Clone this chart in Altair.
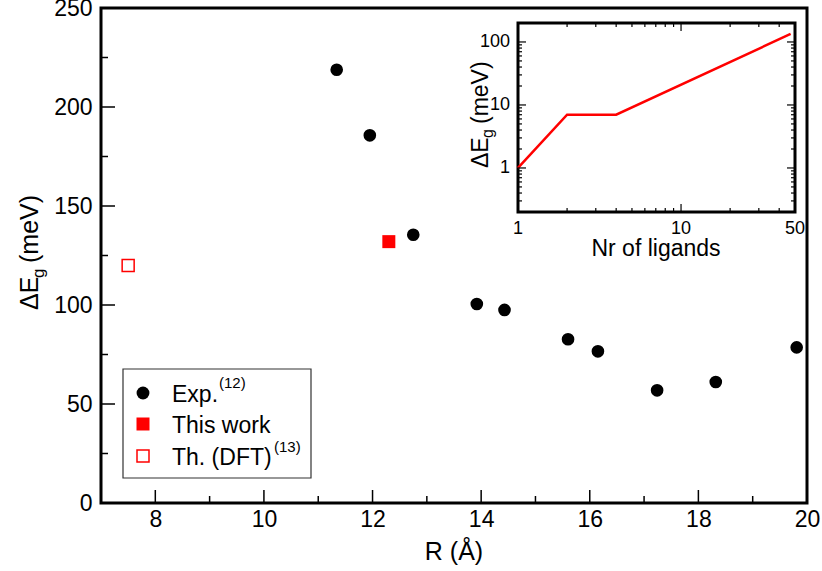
import altair as alt
import pandas as pd

FONT = "Liberation Sans"

# ---- main data ----
exp_R = [11.34, 11.95, 12.75, 13.92, 14.43, 15.60, 16.15, 17.24, 18.32, 19.81]
exp_dE = [218.8, 185.7, 135.5, 100.5, 97.5, 82.7, 76.6, 56.9, 61.1, 78.6]
this_R = [12.30]
this_dE = [132.0]
dft_R = [7.50]
dft_dE = [120.0]

# ---- inset data ----
inset_n = [1, 2, 4, 47]
inset_dE = [1.0, 7.0, 7.0, 134.0]

# ---- ticks / labels ----
x_major = [8, 10, 12, 14, 16, 18, 20]
x_minor = [9, 11, 13, 15, 17, 19]
y_major = [0, 50, 100, 150, 200, 250]
y_minor = [25, 75, 125, 175, 225]

inset_x_labels = [1, 10, 50]
inset_x_major = [1, 10, 50]
inset_x_minor = [2, 3, 4, 5, 6, 7, 8, 9, 20, 30, 40]
inset_y_labels = [1, 10, 100]
inset_y_major = [1, 10, 100]
inset_y_minor = [0.2, 0.3, 0.4, 0.5, 0.6, 0.7, 0.8, 0.9,
                 2, 3, 4, 5, 6, 7, 8, 9,
                 20, 30, 40, 50, 60, 70, 80, 90, 200]

legend_labels = ["Exp.", "This work", "Th. (DFT)"]
legend_refs = ["(12)", "(13)"]

W, H = 706, 495
one = pd.DataFrame({"a": [0]})

xs = alt.Scale(domain=[7, 20], nice=False, zero=False)
ys = alt.Scale(domain=[0, 250], nice=False, zero=False)
xaxis = alt.Axis(values=x_major, labelFontSize=23, labelFont=FONT, labelColor="black",
                 ticks=False, tickSize=0, domain=False, grid=False, title=None,
                 labelPadding=5, format="d", labelFlush=False, labelOverlap=False)
yaxis = alt.Axis(values=y_major, labelFontSize=23, labelFont=FONT, labelColor="black",
                 ticks=False, tickSize=0, domain=False, grid=False, title=None,
                 labelPadding=9, format="d", labelFlush=False, labelOverlap=False)
X = alt.X("x:Q", scale=xs, axis=xaxis)
Y = alt.Y("y:Q", scale=ys, axis=yaxis)

frame = alt.Chart(one).mark_rect(fillOpacity=0, stroke="black", strokeWidth=3).encode(
    x=alt.value(0), x2=alt.value(W), y=alt.value(0), y2=alt.value(H))

exp_pts = alt.Chart(pd.DataFrame({"x": exp_R, "y": exp_dE})).mark_point(
    shape="circle", filled=True, color="black", size=160, opacity=1).encode(x=X, y=Y)
this_pts = alt.Chart(pd.DataFrame({"x": this_R, "y": this_dE})).mark_point(
    shape="square", filled=True, color="#ff0000", size=169, opacity=1).encode(x=X, y=Y)
dft_pts = alt.Chart(pd.DataFrame({"x": dft_R, "y": dft_dE})).mark_point(
    shape="square", filled=False, color="#ff0000", size=144, strokeWidth=1.5, opacity=1).encode(x=X, y=Y)

xt_major = alt.Chart(pd.DataFrame({"x": x_major})).mark_rule(color="black", strokeWidth=1.5).encode(
    x=X, y=alt.value(H), y2=alt.value(H - 13))
xt_minor = alt.Chart(pd.DataFrame({"x": x_minor})).mark_rule(color="black", strokeWidth=1.5).encode(
    x=X, y=alt.value(H), y2=alt.value(H - 7))
yt_major = alt.Chart(pd.DataFrame({"y": y_major})).mark_rule(color="black", strokeWidth=1.5).encode(
    y=Y, x=alt.value(0), x2=alt.value(14))
yt_minor = alt.Chart(pd.DataFrame({"y": y_minor})).mark_rule(color="black", strokeWidth=1.5).encode(
    y=Y, x=alt.value(0), x2=alt.value(7))

# axis titles
xtitle = alt.Chart(one).mark_text(font=FONT, fontSize=25, align="center", baseline="alphabetic").encode(
    x=alt.value(353), y=alt.value(552), text=alt.value("R (Å)"))
yt1 = alt.Chart(one).mark_text(font=FONT, fontSize=25, align="left", baseline="alphabetic", angle=270).encode(
    x=alt.value(-63), y=alt.value(302), text=alt.value("ΔE"))
yt2 = alt.Chart(one).mark_text(font=FONT, fontSize=17, align="left", baseline="alphabetic", angle=270).encode(
    x=alt.value(-57), y=alt.value(270), text=alt.value("g"))
yt3 = alt.Chart(one).mark_text(font=FONT, fontSize=25, align="left", baseline="alphabetic", angle=270).encode(
    x=alt.value(-63), y=alt.value(255), text=alt.value("(meV)"))

# legend
leg_box = alt.Chart(one).mark_rect(fill="white", stroke="#333333", strokeWidth=1.2).encode(
    x=alt.value(22), x2=alt.value(210), y=alt.value(361), y2=alt.value(470))
leg_c = alt.Chart(one).mark_point(shape="circle", filled=True, color="black", size=165, opacity=1).encode(
    x=alt.value(42), y=alt.value(385))
leg_s1 = alt.Chart(one).mark_point(shape="square", filled=True, color="#ff0000", size=169, opacity=1).encode(
    x=alt.value(42), y=alt.value(416))
leg_s2 = alt.Chart(one).mark_point(shape="square", filled=False, color="#ff0000", size=144, strokeWidth=1.5, opacity=1).encode(
    x=alt.value(42), y=alt.value(448))
leg_txt = alt.Chart(pd.DataFrame({"t": legend_labels, "py": [394, 425, 457]})).mark_text(
    font=FONT, fontSize=23, align="left", baseline="alphabetic").encode(
    x=alt.value(71), y=alt.Y("py:Q", scale=None), text="t:N")
leg_ref = alt.Chart(pd.DataFrame({"t": legend_refs, "px": [118, 173], "py": [380, 444]})).mark_text(
    font=FONT, fontSize=15, align="left", baseline="alphabetic").encode(
    x=alt.X("px:Q", scale=None), y=alt.Y("py:Q", scale=None), text="t:N")

main = alt.layer(xt_major, xt_minor, yt_major, yt_minor, exp_pts, this_pts, dft_pts,
                 xtitle, yt1, yt2, yt3, leg_box, leg_c, leg_s1, leg_s2, leg_txt, leg_ref, frame)

# ---- inset ----
IX0, IX1, IY0, IY1 = 417, 694, 204, 15
ixs = alt.Scale(type="log", domain=[1, 50], range=[IX0, IX1], nice=False)
iys = alt.Scale(type="log", domain=[0.2, 200], range=[IY0, IY1], nice=False)
IX = alt.X("n:Q", scale=ixs, axis=None)
IY = alt.Y("v:Q", scale=iys, axis=None)

inset_bg = alt.Chart(one).mark_rect(fill="white", stroke="black", strokeWidth=3).encode(
    x=alt.value(IX0), x2=alt.value(IX1), y=alt.value(IY1), y2=alt.value(IY0))
inset_line = alt.Chart(pd.DataFrame({"n": inset_n, "v": inset_dE})).mark_line(
    color="#ff0000", strokeWidth=2.5).encode(x=IX, y=IY)

def xticks(vals, length):
    d = pd.DataFrame({"n": vals})
    b = alt.Chart(d).mark_rule(color="black", strokeWidth=1.2).encode(
        x=IX, y=alt.value(IY0), y2=alt.value(IY0 - length))
    t = alt.Chart(d).mark_rule(color="black", strokeWidth=1.2).encode(
        x=IX, y=alt.value(IY1), y2=alt.value(IY1 + length))
    return [b, t]

def yticks(vals, length):
    d = pd.DataFrame({"v": vals})
    l = alt.Chart(d).mark_rule(color="black", strokeWidth=1.2).encode(
        y=IY, x=alt.value(IX0), x2=alt.value(IX0 + length))
    r = alt.Chart(d).mark_rule(color="black", strokeWidth=1.2).encode(
        y=IY, x=alt.value(IX1), x2=alt.value(IX1 - length))
    return [l, r]

inset_ticks = xticks(inset_x_major, 8) + xticks(inset_x_minor, 4) + \
    yticks(inset_y_major, 8) + yticks(inset_y_minor, 4)

ix_lab = alt.Chart(pd.DataFrame({"n": inset_x_labels})).mark_text(
    font=FONT, fontSize=18, align="center", baseline="alphabetic").encode(
    x=IX, y=alt.value(226), text=alt.Text("n:Q", format="d"))
iy_lab = alt.Chart(pd.DataFrame({"v": inset_y_labels})).mark_text(
    font=FONT, fontSize=18, align="right", baseline="middle").encode(
    y=IY, x=alt.value(409), text=alt.Text("v:Q", format="d"))
ix_title = alt.Chart(one).mark_text(font=FONT, fontSize=23, align="center", baseline="alphabetic").encode(
    x=alt.value(555), y=alt.value(248), text=alt.value("Nr of ligands"))
iyt1 = alt.Chart(one).mark_text(font=FONT, fontSize=23, align="left", baseline="alphabetic", angle=270).encode(
    x=alt.value(387), y=alt.value(160), text=alt.value("ΔE"))
iyt2 = alt.Chart(one).mark_text(font=FONT, fontSize=16, align="left", baseline="alphabetic", angle=270).encode(
    x=alt.value(392), y=alt.value(130), text=alt.value("g"))
iyt3 = alt.Chart(one).mark_text(font=FONT, fontSize=23, align="left", baseline="alphabetic", angle=270).encode(
    x=alt.value(387), y=alt.value(116), text=alt.value("(meV)"))

inset = alt.layer(inset_bg, inset_line, *inset_ticks, ix_lab, iy_lab, ix_title, iyt1, iyt2, iyt3)

chart = alt.layer(main, inset).resolve_scale(x="independent", y="independent").properties(
    width=W, height=H,
    padding={"left": 101, "top": 8, "right": 15, "bottom": 68},
    autosize=alt.AutoSizeParams(type="none"),
    background="white",
).configure_view(stroke=None).configure(font=FONT)

chart.save("out.html", embed_options={"renderer": "svg", "actions": False})
